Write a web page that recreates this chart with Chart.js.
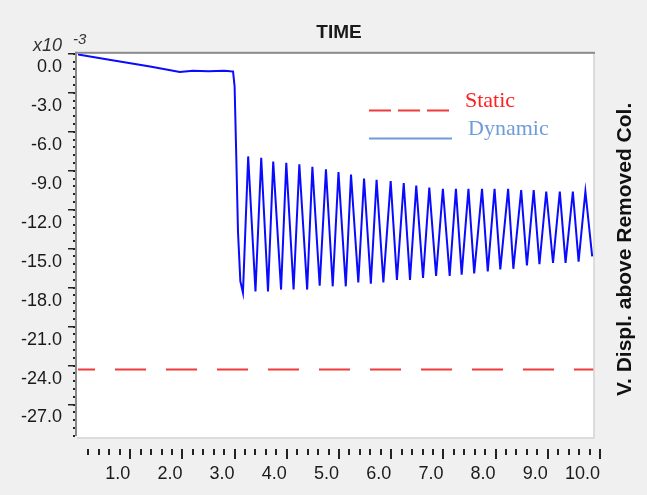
<!DOCTYPE html>
<html>
<head>
<meta charset="utf-8">
<script src="https://cdn.jsdelivr.net/npm/chart.js@4.4.1/dist/chart.umd.min.js"></script>
<style>
  html, body { margin: 0; padding: 0; background: #f0f0f0; }
  #wrap { width: 647px; height: 495px; }
</style>
</head>
<body>
<div id="wrap"><canvas id="chart" width="647" height="495"></canvas></div>
<script>
// Dynamic response (x10^-3), time in s
const DYN_T = [0, 0.6, 1.38, 1.95, 2.2, 2.5, 2.8, 2.92, 2.97, 3.0, 3.035, 3.065, 3.11, 3.16,
  3.26, 3.40, 3.51, 3.64, 3.74, 3.89, 3.99, 4.13, 4.24, 4.39,
  4.49, 4.63, 4.75, 4.88, 4.99, 5.13, 5.23, 5.37, 5.48, 5.61,
  5.72, 5.85, 5.99, 6.11, 6.24, 6.36, 6.48, 6.61, 6.73, 6.86,
  6.99, 7.12, 7.24, 7.35, 7.48, 7.59, 7.74, 7.85, 7.98, 8.09,
  8.24, 8.34, 8.49, 8.60, 8.73, 8.84, 8.97, 9.10, 9.23, 9.34,
  9.48, 9.59, 9.72, 9.85];
const DYN_V = [-0.05, -0.45, -0.97, -1.4, -1.3, -1.35, -1.3, -1.35, -1.36, -2.5, -8.4, -13.7, -17.5, -18.4,
  -7.9, -18.3, -8.0, -18.3, -8.3, -18.15, -8.4, -18.15, -8.5, -18.15,
  -8.7, -17.85, -8.9, -17.9, -9.1, -17.9, -9.3, -17.6, -9.6, -17.7,
  -9.7, -17.6, -9.8, -17.4, -9.95, -17.4, -10.15, -17.25, -10.3, -17.1,
  -10.4, -17.1, -10.4, -17.0, -10.4, -16.9, -10.4, -16.75, -10.4, -16.6,
  -10.4, -16.55, -10.5, -16.3, -10.5, -16.2, -10.6, -16.1, -10.6, -16.1,
  -10.6, -16.0, -10.6, -15.6];

// Static response
const STATIC_T = [0, 9.87];
const STATIC_V = [-24.3, -24.3];

const X_TICKS = [1, 2, 3, 4, 5, 6, 7, 8, 9, 10];
const Y_TICKS = [0, -3, -6, -9, -12, -15, -18, -21, -24, -27];
const X_END = 9.87;

const SANS = "'Liberation Sans', Arial, sans-serif";
const SERIF = "'Liberation Serif', 'Times New Roman', serif";

const decoPlugin = {
  id: "deco",
  beforeDatasetsDraw(chart) {
    const ctx = chart.ctx;
    const a = chart.chartArea;
    const xs = chart.scales.x;
    const xr = Math.round(xs.getPixelForValue(X_END));
    ctx.save();
    ctx.fillStyle = "#ffffff";
    ctx.fillRect(a.left - 1, a.top, xr - a.left + 1, a.bottom - a.top);
    // light right / bottom edges
    ctx.fillStyle = "#dcdcdc";
    ctx.fillRect(xr, a.top, 2, a.bottom - a.top + 2);
    ctx.fillRect(a.left - 1, a.bottom, xr - a.left + 3, 2);
    // dark top / left edges
    ctx.fillStyle = "#8a8a8a";
    ctx.fillRect(a.left - 3, a.top - 2, xr - a.left + 5, 2);
    ctx.fillRect(a.left - 3, a.top - 2, 2, a.bottom - a.top + 1);
    ctx.restore();
  },
  afterDraw(chart) {
    const ctx = chart.ctx;
    const a = chart.chartArea;
    const xs = chart.scales.x;
    const ys = chart.scales.y;
    ctx.save();
    // y ticks
    ctx.fillStyle = "#222";
    for (const v of Y_TICKS) {
      const y = Math.round(ys.getPixelForValue(v));
      ctx.fillRect(a.left - 10, y - 1, 7, 1.5);
    }
    for (let v = 0; v >= ys.min; v -= 0.6) {
      const y = Math.round(ys.getPixelForValue(v));
      ctx.fillRect(a.left - 5, y - 1, 2, 2);
    }
    // x ticks
    const ty = a.bottom + 12;
    for (let i = 1; i <= 50; i++) {
      const v = i * 0.2;
      const x = Math.round(xs.getPixelForValue(v));
      const major = i % 5 === 0;
      ctx.fillRect(x - 1, ty, 2, major ? 10 : 6);
    }
    // x10^-3
    ctx.fillStyle = "#333";
    ctx.textBaseline = "alphabetic";
    ctx.textAlign = "left";
    ctx.font = "italic 18px " + SANS;
    ctx.fillText("x10", 33, 51);
    ctx.font = "italic 15px " + SANS;
    ctx.fillText("-3", 73, 44);
    // right axis title
    ctx.save();
    ctx.translate(625, (a.top + a.bottom) / 2 + 4);
    ctx.rotate(-Math.PI / 2);
    ctx.textAlign = "center";
    ctx.textBaseline = "middle";
    ctx.fillStyle = "#111";
    ctx.font = "bold 21px " + SANS;
    ctx.fillText("V. Displ. above Removed Col.", 0, 0);
    ctx.restore();
    // legend
    const ds = chart.data.datasets;
    ctx.lineWidth = 2;
    ctx.strokeStyle = ds[0].borderColor;
    ctx.setLineDash([22, 7]);
    ctx.beginPath(); ctx.moveTo(369, 110.5); ctx.lineTo(452, 110.5); ctx.stroke();
    ctx.setLineDash([]);
    ctx.strokeStyle = "#6e9cd8";
    ctx.beginPath(); ctx.moveTo(369, 138.5); ctx.lineTo(452, 138.5); ctx.stroke();
    ctx.font = "22px " + SERIF;
    ctx.textAlign = "left";
    ctx.textBaseline = "alphabetic";
    ctx.fillStyle = "#ff2020";
    ctx.fillText(ds[0].label, 465, 107);
    ctx.fillStyle = "#6e9cd8";
    ctx.fillText(ds[1].label, 468, 135);
    ctx.restore();
  }
};

new Chart(document.getElementById("chart"), {
  type: "line",
  data: {
    datasets: [
      {
        label: "Static",
        data: STATIC_T.map((t, i) => ({ x: t, y: STATIC_V[i] })),
        borderColor: "#ee3b3b",
        borderWidth: 2,
        borderDash: [31, 20],
        borderDashOffset: 14,
        pointRadius: 0,
        tension: 0,
      },
      {
        label: "Dynamic",
        data: DYN_T.map((t, i) => ({ x: t, y: DYN_V[i] })),
        borderColor: "#0a0aff",
        borderWidth: 2,
        pointRadius: 0,
        tension: 0,
      },
    ],
  },
  options: {
    responsive: false,
    animation: false,
    layout: { padding: { left: 0, right: 47, top: 0, bottom: 0 } },
    plugins: {
      legend: { display: false },
      tooltip: { enabled: false },
      title: {
        display: true,
        text: "TIME",
        fullSize: false,
        color: "#1a1a1a",
        font: { family: SANS, size: 19, weight: "bold" },
        padding: { top: 21, bottom: 10 },
      },
    },
    scales: {
      x: {
        type: "linear",
        min: 0,
        max: 10,
        afterBuildTicks: (s) => { s.ticks = X_TICKS.map((v) => ({ value: v })); },
        afterFit: (s) => { s.height = 58; },
        grid: { display: false, drawTicks: false },
        border: { display: false },
        ticks: {
          align: "end",
          padding: 26,
          maxRotation: 0,
          autoSkip: false,
          color: "#1a1a1a",
          font: { family: SANS, size: 18 },
          callback: (v) => Number(v).toFixed(1),
        },
      },
      y: {
        type: "linear",
        min: -29.5,
        max: 0,
        afterBuildTicks: (s) => { s.ticks = Y_TICKS.map((v) => ({ value: v })); },
        afterFit: (s) => { s.width = 78; },
        grid: { display: false, drawTicks: false },
        border: { display: false },
        ticks: {
          padding: 16,
          labelOffset: 13,
          autoSkip: false,
          color: "#1a1a1a",
          font: { family: SANS, size: 18 },
          callback: (v) => Number(v).toFixed(1),
        },
      },
    },
  },
  plugins: [decoPlugin],
});
</script>
</body>
</html>
